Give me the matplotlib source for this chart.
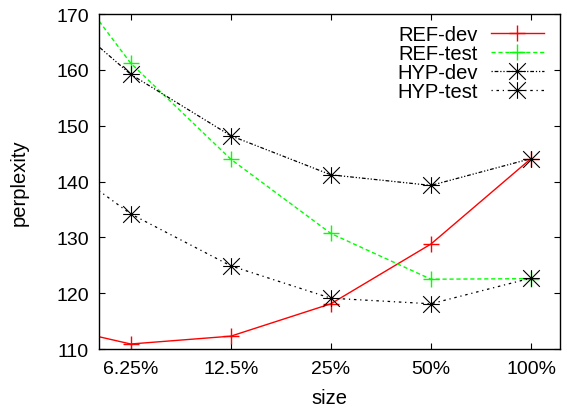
import matplotlib
matplotlib.use('Agg')
import matplotlib.pyplot as plt
from matplotlib.path import Path

plt.rcParams['font.family'] = ['Liberation Sans', 'DejaVu Sans']

# x categories (first one sits just outside the visible range)
sizes = ['3.125%', '6.25%', '12.5%', '25%', '50%', '100%']
shown = [1, 2, 3, 4, 5]

ref_dev = [115.0, 110.9, 112.3, 118.1, 128.8, 144.1]
ref_test = [185.0, 161.2, 144.0, 130.7, 122.5, 122.6]
hyp_dev = [174.7, 159.2, 148.2, 141.2, 139.3, 144.1]
hyp_test = [147.3, 134.2, 124.9, 119.1, 118.1, 122.7]

yticks = [110, 120, 130, 140, 150, 160, 170]

# gnuplot-like star: + overlaid with x
star = Path([(-1, 0), (1, 0), (0, -1), (0, 1), (-1, -1), (1, 1), (-1, 1), (1, -1)],
            [Path.MOVETO, Path.LINETO] * 4)

fig = plt.figure(figsize=(5.67, 4.10), dpi=100)
ax = fig.add_axes([0.174, 0.1463, 0.8137, 0.8171])

x = list(range(len(sizes)))
ax.plot(x, ref_dev, color='#ff0000', lw=1.0, marker='+', ms=12, mew=1.0,
        label='REF-dev')
ax.plot(x, ref_test, color='#00ff00', lw=1.0, ls=(0, (3, 2)), marker='+', ms=12,
        mew=1.0, label='REF-test')
ax.plot(x, hyp_dev, color='black', lw=0.9, ls=(0, (1, 1.5, 3, 1.5, 1, 1.5)),
        marker=star, ms=12, mew=0.8, mfc='none', label='HYP-dev')
ax.plot(x, hyp_test, color='black', lw=0.9, ls=(0, (1, 3, 2, 3)),
        marker=star, ms=12, mew=0.8, mfc='none', label='HYP-test')

ax.set_xlim(0.68, 5.29)
ax.set_ylim(110, 170)
ax.set_xticks(shown)
ax.set_xticklabels([sizes[i] for i in shown])
ax.set_yticks(yticks)
ax.tick_params(direction='in', length=4, width=0.8, labelsize=14,
               top=True, right=True)
ax.tick_params(axis='y', pad=7)
ax.tick_params(axis='x', pad=8)
for s in ax.spines.values():
    s.set_linewidth(1.0)

ax.set_xlabel('size', fontsize=14.5, labelpad=8)
ax.set_ylabel('perplexity', fontsize=14.5, labelpad=20)

leg = ax.legend(loc='upper right', bbox_to_anchor=(0.995, 1.01), frameon=False,
                markerfirst=False, fontsize=14.5, handlelength=2.6,
                handletextpad=0.65, labelspacing=0.0, borderpad=0.2)

fig.savefig('out.png', dpi=100)
